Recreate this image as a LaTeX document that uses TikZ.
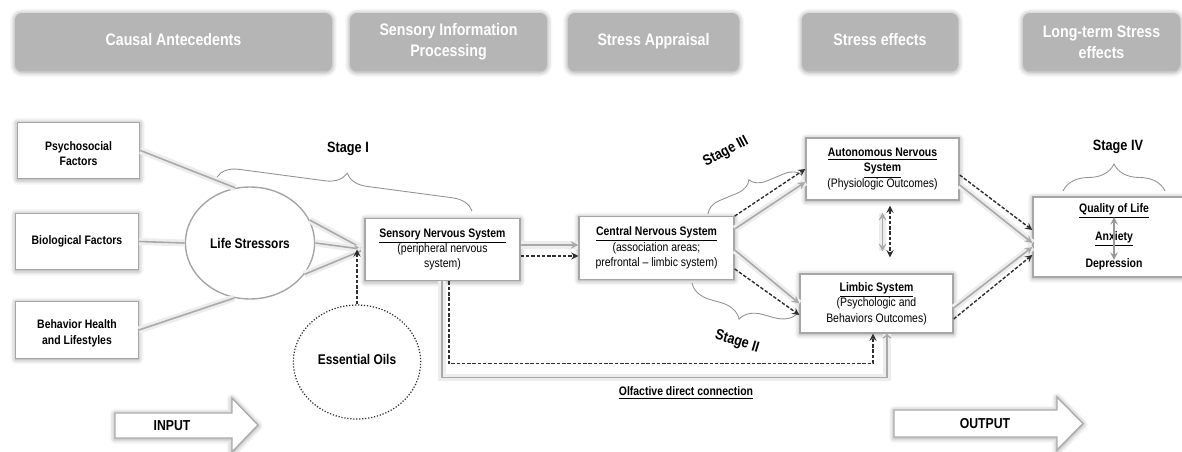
\documentclass[tikz,border=0pt]{standalone}
\usepackage{fontspec}
\setmainfont{Liberation Sans}[FakeStretch=0.85]
\usetikzlibrary{shapes.geometric,shadows.blur,decorations.pathreplacing}

\definecolor{hdrgray}{HTML}{B5B5B5}
\definecolor{edgegray}{HTML}{A6A6A6}
\definecolor{linegray}{HTML}{A9A9A9}
\definecolor{darkline}{HTML}{2E2E2E}

\tikzstyle{every node}=[font=\fontsize{7pt}{8.8pt}\selectfont, align=center]
\tikzstyle{softshadow}=[blur shadow={shadow xshift=0pt, shadow yshift=-0.5pt, shadow blur radius=3pt, shadow opacity=45}]
\tikzstyle{header}=[fill=hdrgray, rounded corners=4pt, text=white, minimum height=1.16cm, font=\fontsize{9.5pt}{11.8pt}\selectfont\bfseries, softshadow]
\tikzstyle{factor}=[draw=edgegray, fill=white, line width=0.8pt, minimum width=2.45cm, minimum height=1.13cm, font=\fontsize{7pt}{8.8pt}\selectfont\bfseries, softshadow]
\tikzstyle{sysbox}=[draw=edgegray, fill=white, line width=0.8pt, minimum width=3.1cm, minimum height=1.25cm, softshadow]
\tikzstyle{stage}=[font=\fontsize{8.5pt}{10pt}\selectfont\bfseries]
\tikzstyle{bracket}=[draw=gray!85, line width=0.5pt, decorate]
\tikzstyle{grayline}=[draw=linegray, line width=0.9pt, preaction={draw=black!7, line width=4pt, arrows=-}]
\tikzstyle{dashline}=[draw=darkline, line width=0.8pt, dash pattern=on 2pt off 1pt, -stealth]
\tikzstyle{bigarrow}=[draw=gray!65, fill=white, line width=0.8pt, softshadow]

\begin{document}
\begin{tikzpicture}[x=0.02cm, y=-0.02cm]
	\useasboundingbox (0,0) rectangle (1182,452);

	% Kopfzeile
	\node[header, minimum width=6.34cm] (hcause) at (173.5,42) {\raisebox{1.2mm}{Causal Antecedents}};
	\node[header, minimum width=3.94cm] (hsens) at (448.5,42) {Sensory Information\\Processing};
	\node[header, minimum width=3.42cm] (happr) at (653.5,42) {\raisebox{1.2mm}{Stress Appraisal}};
	\node[header, minimum width=3.12cm] (heff) at (880,42) {\raisebox{1.2mm}{Stress effects}};
	\node[header, minimum width=3.14cm] (hlong) at (1101.5,42) {Long-term Stress\\effects};

	% Ursachen
	\node[factor] (psycho) at (78.5,150.5) {\mbox{}\\Psychosocial\\Factors};
	\node[factor] (bio) at (77,241.5) {Biological Factors};
	\node[factor] (behav) at (77,330) {\mbox{}\\Behavior Health\\and Lifestyles};

	\node[ellipse, draw=edgegray, fill=white, line width=0.8pt, minimum width=2.42cm, minimum height=2.24cm,
	      font=\fontsize{8pt}{9pt}\selectfont\bfseries] (life) at (250,243) {Life Stressors};
	\node[ellipse, draw=darkline, densely dotted, line width=0.7pt, minimum width=2.42cm, minimum height=2.28cm,
	      font=\fontsize{8pt}{9pt}\selectfont\bfseries] (oils) at (357,362) {\raisebox{1.2mm}{Essential Oils}};

	% Nervensystem
	\node[sysbox] (sns) at (442.5,249.5) {\underline{\textbf{Sensory Nervous System}}\\(peripheral nervous\\system)};
	\node[sysbox] (cns) at (656.5,248) {\underline{\textbf{Central Nervous System}}\\(association areas;\\prefrontal -- limbic system)};
	\node[sysbox, minimum width=3.06cm, minimum height=1.24cm] (ans) at (882.5,169)
	      {\underline{\textbf{Autonomous Nervous}}\\\underline{\textbf{System}}\\(Physiologic Outcomes)};
	\node[sysbox, minimum width=3.06cm, minimum height=1.18cm] (limbic) at (876.5,303.5)
	      {\underline{\textbf{Limbic System}}\\(Psychologic and\\Behaviors Outcomes)};
	\node[sysbox, minimum width=3.24cm, minimum height=1.6cm, font=\fontsize{7pt}{15.6pt}\selectfont\bfseries] (qol) at (1114,237)
	      {\underline{Quality of Life}\\\underline{Anxiety}\\Depression};

	% Stufen
	\node[stage] (st1) at (348,149) {Stage I};
	\node[stage, rotate=28] (st3) at (726,152) {Stage III};
	\node[stage, rotate=-17] (st2) at (737,342) {Stage II};
	\node[stage] (st4) at (1118,147) {Stage IV};

	\draw[bracket, decoration={brace, amplitude=0.42cm}] (217,177) -- (472,211);
	\draw[bracket, decoration={brace, amplitude=0.32cm}] (708,214) -- (802,175);
	\draw[bracket, decoration={brace, amplitude=0.44cm}] (798,313) -- (692,283);
	\draw[bracket, decoration={brace, amplitude=0.54cm}] (1063,191) -- (1165,191);

	% Verbindungen
	\draw[grayline] (psycho.east) -- (life.105);
	\draw[grayline] (bio.east) -- (life.west);
	\draw[grayline] (behav.east) -- (life.254);

	\draw[grayline, shorten >=2pt] (life.21) -- (sns.west);
	\draw[grayline, shorten >=2pt, -stealth] (life.east) -- (sns.west);
	\draw[grayline, shorten >=2pt] (life.-30) -- (sns.west);
	\draw[dashline] (oils.north) -- (oils.north |- sns.west);

	\draw[grayline, -stealth] ([yshift=0.9mm]sns.east) -- ([yshift=0.9mm]sns.east -| cns.west);
	\draw[dashline] ([yshift=-1.3mm]sns.east) -- ([yshift=-1.3mm]sns.east -| cns.west);

	\draw[grayline, -stealth] ([yshift=-2.6mm]cns.north east) -- ([yshift=-2.6mm]ans.west);
	\draw[dashline] (cns.north east) -- (ans.west);
	\draw[grayline, -stealth] ([yshift=-0.4mm]cns.east) -- (limbic.west);
	\draw[dashline] ([yshift=2.2mm]cns.south east) -- ([yshift=-2.3mm]limbic.west);

	\draw[grayline, stealth-stealth, shorten <=2.4mm, shorten >=4.4mm] (ans.south) -- (ans.south |- limbic.north);
	\draw[dashline, stealth-stealth, shorten <=1mm, shorten >=3.2mm] ([xshift=1.5mm]ans.south) -- ([xshift=1.5mm]ans.south |- limbic.north);

	\draw[grayline, -stealth] ([yshift=-3.2mm]ans.east) -- ([yshift=-1.2mm]qol.west);
	\draw[dashline] ([yshift=-1.2mm]ans.east) -- ([yshift=1.4mm]qol.west);
	\draw[grayline, -stealth] ([yshift=-0.9mm]limbic.east) -- ([yshift=-2mm]qol.west);
	\draw[dashline] ([yshift=-3.1mm]limbic.east) -- ([yshift=-3.6mm]qol.west);

	% direkter Riechweg
	\draw[grayline, ->] ([xshift=-0.1mm]sns.south) -- ++(0,96) -| ([xshift=2.1mm]limbic.south);
	\draw[dashline] ([xshift=1.3mm]sns.south) -- ++(0,82) -| ([xshift=-0.7mm]limbic.south);
	\node[font=\fontsize{7pt}{8.8pt}\selectfont\bfseries] (olf) at (686,393) {\underline{Olfactive direct connection}};

	\draw[draw=gray!80, line width=0.9pt, stealth-stealth] ([yshift=4mm]qol.center) -- ([yshift=-4.6mm]qol.center);

	% Ein- und Ausgang
	\draw[bigarrow] (115,413) -- (232,413) -- (232,398) -- (258,425) -- (232,452) -- (232,438) -- (115,438) -- cycle;
	\node[font=\fontsize{8.2pt}{9pt}\selectfont\bfseries] (input) at (172,425.5) {INPUT};
	\draw[bigarrow] (894,410) -- (1057,410) -- (1057,397) -- (1083,423.5) -- (1057,450) -- (1057,437) -- (894,437) -- cycle;
	\node[font=\fontsize{8.2pt}{9pt}\selectfont\bfseries] (output) at (985,423.5) {OUTPUT};
\end{tikzpicture}
\end{document}
